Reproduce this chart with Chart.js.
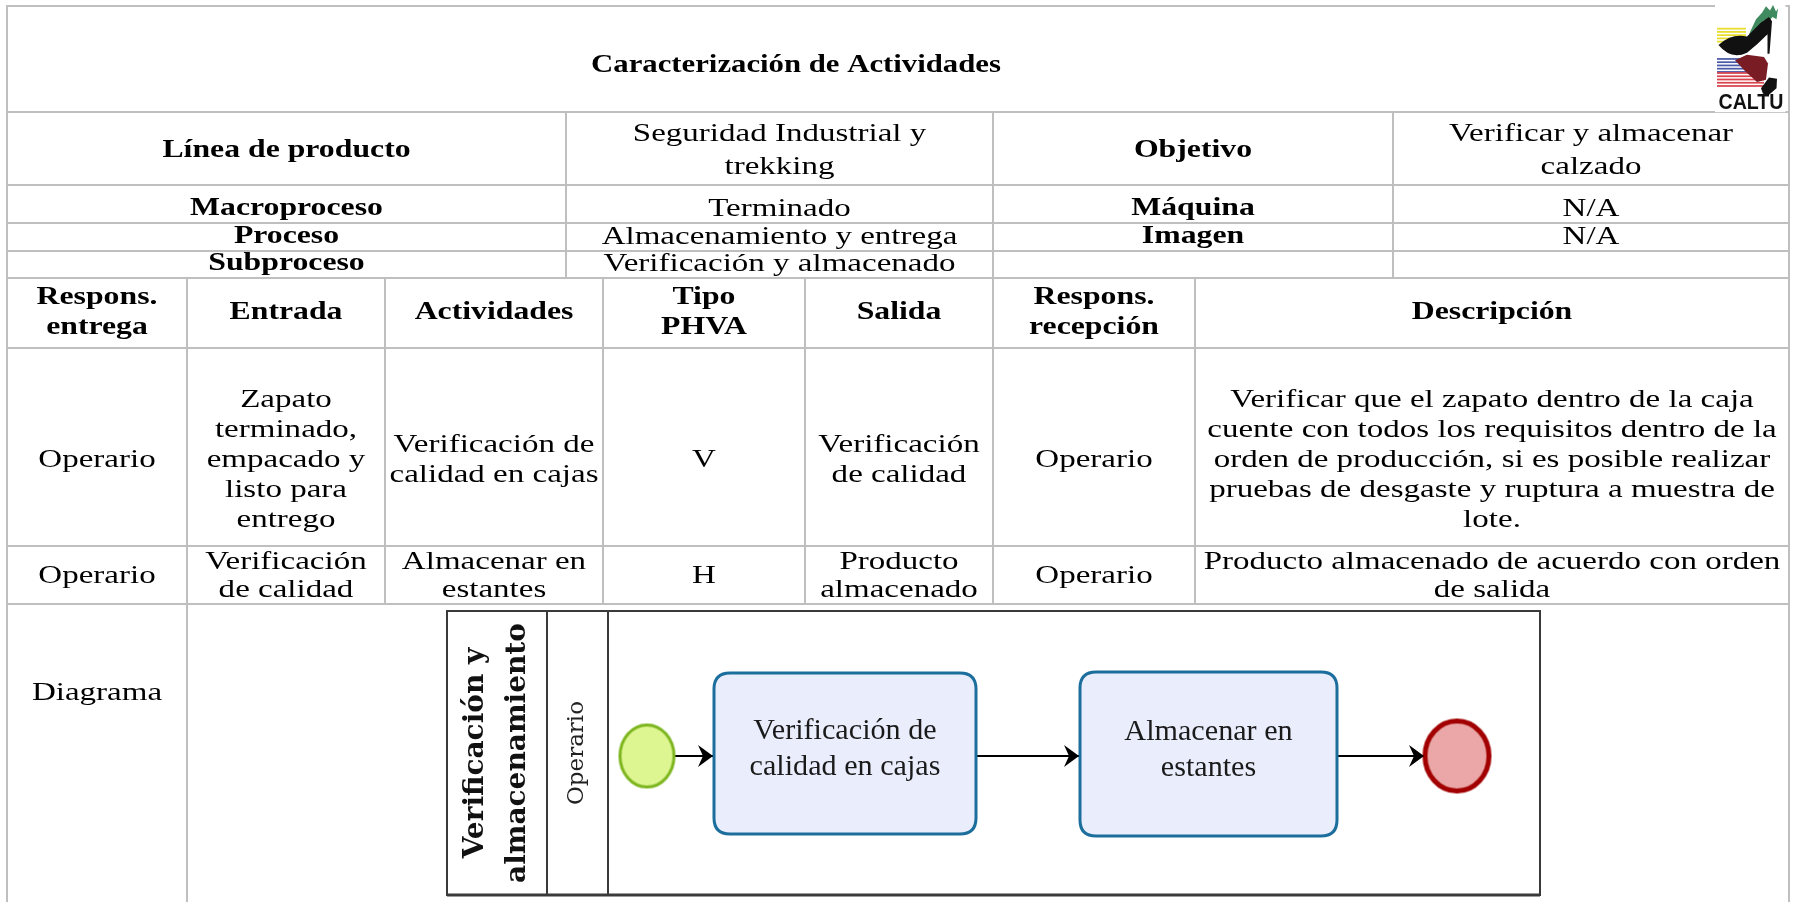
<!DOCTYPE html>
<html>
<head>
<meta charset="utf-8">
<script src="https://cdn.jsdelivr.net/npm/chart.js@4.4.1/dist/chart.umd.min.js"></script>
<style>
  html, body { margin: 0; padding: 0; background: #ffffff; }
  #wrap { width: 1811px; height: 902px; }
</style>
</head>
<body>
<div id="wrap"><canvas id="c" width="1811" height="902"></canvas></div>
<script>
// ---------------- DATA (content) ----------------
const titleText = "Caracterización de Actividades";
const logoText = "CALTU";
const infoLabels = ["Línea de producto", "Macroproceso", "Proceso", "Subproceso"];
const infoValues = ["Seguridad Industrial y\ntrekking", "Terminado", "Almacenamiento y entrega", "Verificación y almacenado"];
const sideLabels = ["Objetivo", "Máquina", "Imagen", ""];
const sideValues = ["Verificar y almacenar\ncalzado", "N/A", "N/A", ""];
const columnHeaders = ["Respons.\nentrega", "Entrada", "Actividades", "Tipo\nPHVA", "Salida", "Respons.\nrecepción", "Descripción"];
const responsEntrega = ["Operario", "Operario"];
const entradas = ["Zapato\nterminado,\nempacado y\nlisto para\nentrego", "Verificación\nde calidad"];
const actividades = ["Verificación de\ncalidad en cajas", "Almacenar en\nestantes"];
const tipoPHVA = ["V", "H"];
const salidas = ["Verificación\nde calidad", "Producto\nalmacenado"];
const responsRecepcion = ["Operario", "Operario"];
const descripciones = [
  "Verificar que el zapato dentro de la caja\ncuente con todos los requisitos dentro de la\norden de producción, si es posible realizar\npruebas de desgaste y ruptura a muestra de\nlote.",
  "Producto almacenado de acuerdo con orden\nde salida"
];
const diagramLabel = "Diagrama";
const poolName = "Verificación y\nalmacenamiento";
const laneName = "Operario";
const flowTasks = ["Verificación de\ncalidad en cajas", "Almacenar en\nestantes"];

// ---------------- LAYOUT (geometry, styles) ----------------
const L = {
  rows: [6, 112, 185, 223, 251, 278, 348, 546, 604],
  bottom: 902,
  topCols: [7, 566, 993, 1393, 1789],
  botCols: [7, 187, 385, 603, 805, 993, 1195, 1789],
  titleX: 796,
  textY: { title: 66, info: [151, 209, 237, 264], header: 313, act: [460, 576], diag: 693 },
  infoLH: 33,
  actLH: [30, 28],
  logo: { x: 1716, y: 4, w: 70, h: 106 },
  pool: { x0: 447, x1: 1540, y0: 611, y1: 895, hdr: 547, lane: 608 },
  start: { x: 647, y: 756, rx: 27, ry: 31 },
  end: { x: 1457, y: 756, rx: 32, ry: 35 },
  tasks: [ { x0: 714, x1: 976, y0: 673, y1: 834 }, { x0: 1080, x1: 1337, y0: 672, y1: 836 } ]
};
const ST = {
  title: { size: 25, bold: true, sx: 1.23, lh: 30, family: "'Liberation Serif'" },
  bold: { size: 25, bold: true, sx: 1.27, lh: 30, family: "'Liberation Serif'" },
  reg:  { size: 26, bold: false, sx: 1.27, lh: 30, family: "'Liberation Serif'" },
  task: { size: 29, bold: false, sx: 1.04, lh: 36, family: "'Liberation Serif'" },
  pool: { size: 28, bold: true, sx: 1, lh: 42, family: "'DejaVu Serif'" },
  lane: { size: 23, bold: false, sx: 1, lh: 23, family: "'DejaVu Serif'" }
};
const gridColor = "#bfbfbf";

function drawText(ctx, text, cx, cy, st, color, lh) {
  const lines = String(text).split("\n");
  const step = lh || st.lh;
  ctx.save();
  ctx.fillStyle = color || "#000";
  ctx.font = (st.bold ? "bold " : "") + st.size + "px " + st.family;
  ctx.textAlign = "center";
  ctx.textBaseline = "middle";
  const n = lines.length;
  lines.forEach((s, i) => {
    const y = cy + (i - (n - 1) / 2) * step;
    ctx.save();
    ctx.translate(cx, y);
    ctx.scale(st.sx, 1);
    ctx.fillText(s, 0, 0);
    ctx.restore();
  });
  ctx.restore();
}

function roundRect(ctx, x, y, w, h, r) {
  ctx.beginPath();
  ctx.moveTo(x + r, y);
  ctx.lineTo(x + w - r, y);
  ctx.quadraticCurveTo(x + w, y, x + w, y + r);
  ctx.lineTo(x + w, y + h - r);
  ctx.quadraticCurveTo(x + w, y + h, x + w - r, y + h);
  ctx.lineTo(x + r, y + h);
  ctx.quadraticCurveTo(x, y + h, x, y + h - r);
  ctx.lineTo(x, y + r);
  ctx.quadraticCurveTo(x, y, x + r, y);
  ctx.closePath();
}

function makeEllipse(rx, ry, fill, stroke, lw) {
  const c = document.createElement("canvas");
  c.width = Math.ceil(2 * rx + lw + 2);
  c.height = Math.ceil(2 * ry + lw + 2);
  const g = c.getContext("2d");
  g.beginPath();
  g.ellipse(c.width / 2, c.height / 2, rx, ry, 0, 0, Math.PI * 2);
  g.fillStyle = fill; g.fill();
  g.lineWidth = lw; g.strokeStyle = stroke; g.stroke();
  return c;
}

const tablePlugin = {
  id: "tablePlugin",
  beforeDatasetsDraw(chart) {
    const ctx = chart.ctx;
    const X = v => chart.scales.x.getPixelForValue(v);
    const Y = v => chart.scales.y.getPixelForValue(v);
    const R = L.rows, T = L.textY;

    ctx.save();
    ctx.strokeStyle = gridColor;
    ctx.lineWidth = 2;
    const hl = (y, x0, x1) => { ctx.beginPath(); ctx.moveTo(X(x0), Y(y)); ctx.lineTo(X(x1), Y(y)); ctx.stroke(); };
    const vl = (x, y0, y1) => { ctx.beginPath(); ctx.moveTo(X(x), Y(y0)); ctx.lineTo(X(x), Y(y1)); ctx.stroke(); };
    const xl = L.topCols[0], xr = L.topCols[L.topCols.length - 1];
    R.forEach(y => hl(y, xl - 1, xr + 1));
    vl(xl, R[0], L.bottom);
    vl(xr, R[0], L.bottom);
    L.topCols.slice(1, -1).forEach(x => vl(x, R[1], R[5]));
    vl(L.botCols[1], R[5], L.bottom);
    L.botCols.slice(2, -1).forEach(x => vl(x, R[5], R[8]));
    ctx.restore();

    drawLogo(ctx, X(L.logo.x), Y(L.logo.y), X(L.logo.x + L.logo.w) - X(L.logo.x), Y(L.logo.y + L.logo.h) - Y(L.logo.y));

    drawText(ctx, titleText, X(L.titleX), Y(T.title), ST.title);

    const tc = L.topCols;
    for (let i = 0; i < infoLabels.length; i++) {
      const cy = Y(T.info[i]);
      drawText(ctx, infoLabels[i], X((tc[0] + tc[1]) / 2), cy, ST.bold);
      drawText(ctx, infoValues[i], X((tc[1] + tc[2]) / 2), cy, ST.reg, "#000", L.infoLH);
      if (sideLabels[i]) drawText(ctx, sideLabels[i], X((tc[2] + tc[3]) / 2), cy, ST.bold);
      if (sideValues[i]) drawText(ctx, sideValues[i], X((tc[3] + tc[4]) / 2), cy, ST.reg, "#000", L.infoLH);
    }

    const bc = L.botCols;
    columnHeaders.forEach((h, j) => drawText(ctx, h, X((bc[j] + bc[j + 1]) / 2), Y(T.header), ST.bold));

    const cols = [responsEntrega, entradas, actividades, tipoPHVA, salidas, responsRecepcion, descripciones];
    for (let r = 0; r < 2; r++) {
      const cy = Y(T.act[r]);
      cols.forEach((arr, j) => drawText(ctx, arr[r], X((bc[j] + bc[j + 1]) / 2), cy, ST.reg, "#000", L.actLH[r]));
    }

    drawText(ctx, diagramLabel, X((bc[0] + bc[1]) / 2), Y(T.diag), ST.reg);

    const P = L.pool;
    ctx.save();
    ctx.strokeStyle = "#3a3a3a";
    ctx.lineWidth = 2;
    ctx.strokeRect(X(P.x0), Y(P.y0), X(P.x1) - X(P.x0), Y(P.y1) - Y(P.y0));
    ctx.beginPath();
    ctx.moveTo(X(P.hdr), Y(P.y0)); ctx.lineTo(X(P.hdr), Y(P.y1));
    ctx.moveTo(X(P.lane), Y(P.y0)); ctx.lineTo(X(P.lane), Y(P.y1));
    ctx.stroke();
    ctx.lineWidth = 3;
    ctx.beginPath(); ctx.moveTo(X(P.x0), Y(P.y1)); ctx.lineTo(X(P.x1), Y(P.y1)); ctx.stroke();
    ctx.restore();
    const pcy = Y((P.y0 + P.y1) / 2);
    ctx.save();
    ctx.translate(X((P.x0 + P.hdr) / 2), pcy);
    ctx.rotate(-Math.PI / 2);
    drawText(ctx, poolName, 0, 0, ST.pool, "#111");
    ctx.restore();
    ctx.save();
    ctx.translate(X((P.hdr + P.lane) / 2), pcy);
    ctx.rotate(-Math.PI / 2);
    drawText(ctx, laneName, 0, 0, ST.lane, "#222");
    ctx.restore();
  },
  afterDatasetsDraw(chart) {
    const ctx = chart.ctx;
    const X = v => chart.scales.x.getPixelForValue(v);
    const Y = v => chart.scales.y.getPixelForValue(v);
    L.tasks.forEach((t, i) => {
      ctx.save();
      roundRect(ctx, X(t.x0), Y(t.y0), X(t.x1) - X(t.x0), Y(t.y1) - Y(t.y0), 16);
      ctx.fillStyle = "#e9edfc";
      ctx.fill();
      ctx.strokeStyle = "#1c6e9c";
      ctx.lineWidth = 3;
      ctx.stroke();
      ctx.restore();
      drawText(ctx, flowTasks[i], X((t.x0 + t.x1) / 2), Y((t.y0 + t.y1) / 2 - 4), ST.task, "#1a1a1a");
    });
    const tips = [L.tasks[0].x0, L.tasks[1].x0, L.end.x - L.end.rx];
    ctx.save();
    ctx.fillStyle = "#000";
    tips.forEach(tx => {
      const x = X(tx - 1), y = Y(L.start.y);
      ctx.beginPath();
      ctx.moveTo(x, y);
      ctx.lineTo(x - 15, y - 11);
      ctx.lineTo(x - 10, y);
      ctx.lineTo(x - 15, y + 11);
      ctx.closePath();
      ctx.fill();
    });
    ctx.restore();
  }
};

function drawLogo(ctx, x, y, w, h) {
  ctx.save();
  ctx.translate(x, y);
  ctx.scale(w / 140, h / 98);
  ctx.fillStyle = "#fff";
  ctx.fillRect(-2, -2, 141, 102);
  const stripe = (y0, y1, x0, x1, col) => {
    ctx.fillStyle = col;
    for (let yy = y0; yy < y1; yy += 3) ctx.fillRect(x0, yy, x1 - x0, 1.6);
  };
  stripe(22, 35, 2, 60, "#e9dc2a");
  stripe(50, 63, 2, 62, "#4a5aa8");
  stripe(63, 77, 2, 96, "#d8434c");
  ctx.fillStyle = "#3f8a5e";
  ctx.beginPath();
  ctx.moveTo(66, 28); ctx.lineTo(80, 14); ctx.lineTo(92, 8); ctx.lineTo(100, 2); ctx.lineTo(108, 6);
  ctx.lineTo(114, 1); ctx.lineTo(120, 7); ctx.lineTo(124, 4); ctx.lineTo(121, 14); ctx.lineTo(113, 12);
  ctx.lineTo(106, 16); ctx.lineTo(96, 15); ctx.lineTo(86, 22); ctx.lineTo(74, 30);
  ctx.closePath(); ctx.fill();
  ctx.fillStyle = "#111";
  ctx.beginPath();
  ctx.moveTo(5, 38);
  ctx.quadraticCurveTo(30, 27, 62, 30);
  ctx.lineTo(90, 17); ctx.lineTo(106, 12); ctx.lineTo(112, 16);
  ctx.lineTo(107, 46); ctx.lineTo(103, 46); ctx.lineTo(103, 28);
  ctx.quadraticCurveTo(82, 38, 62, 45);
  ctx.quadraticCurveTo(30, 52, 5, 38);
  ctx.closePath(); ctx.fill();
  ctx.fillStyle = "#7a1c24";
  ctx.beginPath();
  ctx.moveTo(38, 52); ctx.lineTo(62, 47); ctx.lineTo(96, 49); ctx.lineTo(104, 55);
  ctx.lineTo(100, 70); ctx.lineTo(82, 72); ctx.lineTo(58, 62);
  ctx.closePath(); ctx.fill();
  ctx.fillStyle = "#111";
  ctx.beginPath();
  ctx.moveTo(90, 78); ctx.lineTo(106, 68); ctx.lineTo(122, 69); ctx.lineTo(121, 78);
  ctx.lineTo(106, 84); ctx.lineTo(94, 83);
  ctx.closePath(); ctx.fill();
  ctx.fillStyle = "#111";
  ctx.font = "bold 20px 'Liberation Sans'";
  ctx.textAlign = "center";
  ctx.textBaseline = "alphabetic";
  ctx.save();
  ctx.translate(70, 97);
  const tw = ctx.measureText(logoText).width;
  ctx.scale(130 / tw, 1);
  ctx.fillText(logoText, 0, 0);
  ctx.restore();
  ctx.restore();
}

const startStyle = makeEllipse(L.start.rx, L.start.ry, "#def691", "#7cb51e", 3);
const endStyle = makeEllipse(L.end.rx, L.end.ry, "#eba7a7", "#a20000", 5);

new Chart(document.getElementById("c"), {
  type: "scatter",
  data: {
    datasets: [
      {
        label: "Eventos",
        data: [ { x: L.start.x, y: L.start.y }, { x: L.end.x, y: L.end.y } ],
        pointStyle: [startStyle, endStyle],
        pointRadius: [L.start.ry, L.end.ry],
        order: 0
      },
      {
        label: "Flujo",
        type: "line",
        data: [ { x: L.start.x + L.start.rx, y: L.start.y }, { x: L.end.x - L.end.rx, y: L.end.y } ],
        showLine: true,
        borderColor: "#000",
        borderWidth: 2,
        pointRadius: 0,
        fill: false,
        order: 1
      }
    ]
  },
  options: {
    responsive: false,
    animation: false,
    devicePixelRatio: 1,
    events: [],
    layout: { padding: 0, autoPadding: false },
    scales: {
      x: { type: "linear", min: 0, max: 1811, display: false },
      y: { type: "linear", min: 0, max: 902, reverse: true, display: false }
    },
    plugins: { legend: { display: false }, tooltip: { enabled: false } }
  },
  plugins: [tablePlugin]
});
</script>
</body>
</html>
